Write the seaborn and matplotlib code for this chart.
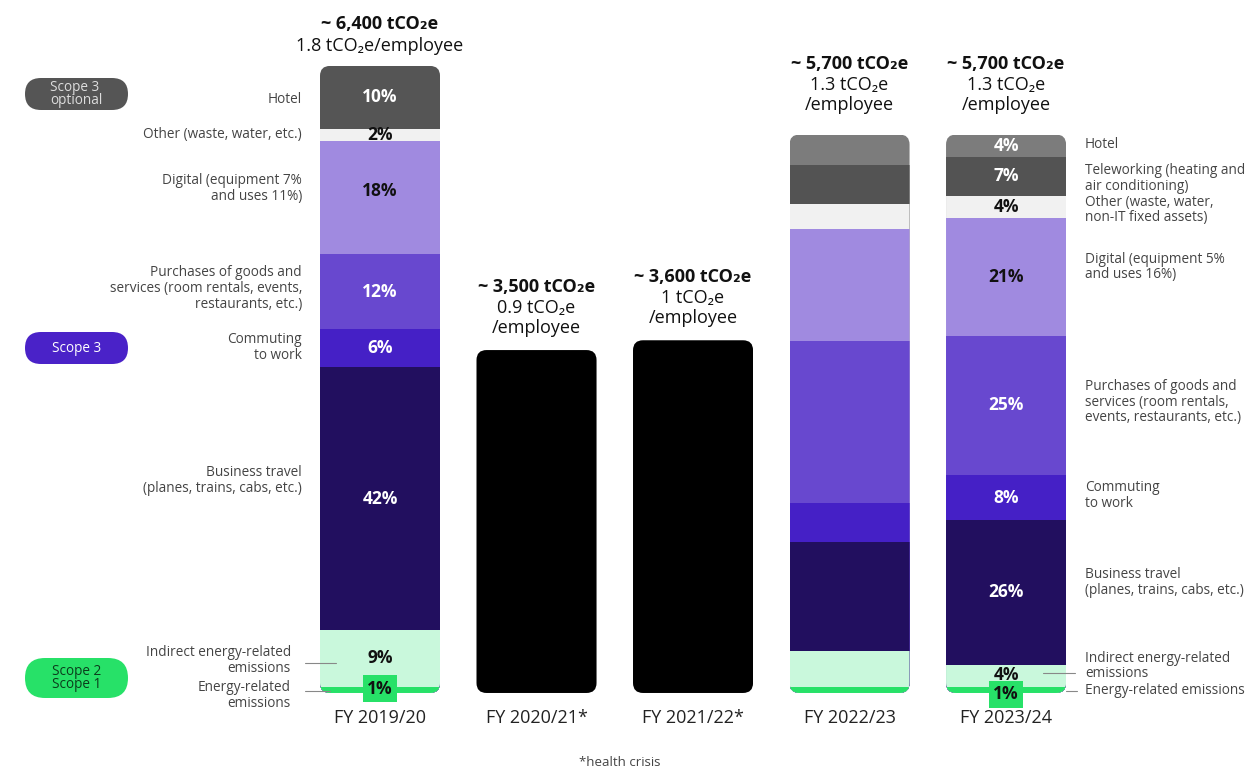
import numpy as np
import pandas as pd
import matplotlib.pyplot as plt
import seaborn as sns
from matplotlib.patches import FancyBboxPatch
from matplotlib.lines import Line2D
from matplotlib.transforms import IdentityTransform

# ---- data (shares in % of each year's total) ----
years = ['FY 2019/20', 'FY 2020/21*', 'FY 2021/22*', 'FY 2022/23', 'FY 2023/24']
totals = [6400, 3500, 3600, 5700, 5700]
per_employee = ['1.8', '0.9', '1', '1.3', '1.3']
has_split = [True, False, False, True, True]

categories = ['Energy', 'Indirect', 'Business travel', 'Commuting', 'Purchases',
              'Digital', 'Other', 'Teleworking', 'Hotel']
energy = [1, np.nan, np.nan, 1, 1]
indirect = [9, np.nan, np.nan, 6.5, 4]
business = [42, np.nan, np.nan, 19.5, 26]
commuting = [6, np.nan, np.nan, 7, 8]
purchases = [12, np.nan, np.nan, 29, 25]
digital = [18, np.nan, np.nan, 20, 21]
other = [2, np.nan, np.nan, 4.5, 4]
teleworking = [0, np.nan, np.nan, 7, 7]
hotel = [10, np.nan, np.nan, 5.5, 4]
shares = [energy, indirect, business, commuting, purchases, digital, other, teleworking, hotel]

colors = {
    'Energy': '#27e168', 'Indirect': '#c9f8dc', 'Business travel': '#220f5f',
    'Commuting': '#4520c6', 'Purchases': '#6848cf', 'Digital': '#a08ae0',
    'Other': '#f1f1f1', 'Teleworking': '#535353', 'Hotel': '#7c7c7c',
}
hotel_2019_color = '#555555'
dark_text = {'Hotel', 'Teleworking', 'Purchases', 'Commuting', 'Business travel'}

FONT = ['Open Sans', 'DejaVu Sans']
sns.set_theme(style='white')
plt.rcParams['font.family'] = FONT

df = pd.DataFrame({'year': years, 'total': totals, 'split': has_split})
for cat, vals in zip(categories, shares):
    df[cat] = np.array(vals) / 100 * df['total']
cum = df[categories].cumsum(axis=1)
for cat in categories:
    df['cum_' + cat] = cum[cat]

fig = plt.figure(figsize=(12.56, 7.69), dpi=100)
ax = fig.add_axes([0, 0, 1, 1])
W = 0.767

split_df = df[df['split']]
# layered stacking: draw the highest cumulative first
for cat in reversed(categories):
    pal = {y: colors[cat] for y in years}
    if cat == 'Hotel':
        pal['FY 2019/20'] = hotel_2019_color
    sns.barplot(data=split_df, x='year', y='cum_' + cat, hue='year', order=years,
                hue_order=years, palette=pal, width=W, saturation=1, legend=False,
                linewidth=0, ax=ax)
sns.barplot(data=df[~df['split']], x='year', y='total', order=years, color='black',
            width=W, saturation=1, linewidth=0, ax=ax)

xmin, xmax = -2.428, 5.597
ymin, ymax = -776, 7073
ax.set_xlim(xmin, xmax)
ax.set_ylim(ymin, ymax)
ax.axis('off')
dx = (xmax - xmin) / 1256
dy = (ymax - ymin) / 769

# rounded bar outlines as clip paths
clips = []
for i, t in enumerate(totals):
    clips.append(FancyBboxPatch((i - W / 2, 0), W, t,
                                boxstyle=f'round,pad=0,rounding_size={10 * dx}',
                                mutation_aspect=dy / dx, transform=ax.transData))
for p in list(ax.patches):
    i = int(round(p.get_x() + p.get_width() / 2))
    p.set_clip_path(clips[i])

# ---- headers above bars ----
for i, (t, pe) in enumerate(zip(totals, per_employee)):
    head = f'~ {t:,} tCO₂e'
    if i == 0:
        lines = [(head, 'bold', 42), (f'{pe} tCO₂e/employee', 'normal', 20)]
    else:
        base = 22 if i in (1, 2) else 30
        lines = [(head, 'bold', base + 41), (f'{pe} tCO₂e', 'normal', base + 20),
                 ('/employee', 'normal', base)]
    for txt, wt, off in lines:
        ax.annotate(txt, xy=(i, t), xytext=(0, off), textcoords='offset pixels',
                    ha='center', va='center', fontsize=13, fontweight=wt,
                    color='#111111', family=FONT)
    ax.annotate(years[i], xy=(i, 0), xytext=(0, -25), textcoords='offset pixels',
                ha='center', va='center', fontsize=13, color='#222222')

# ---- percentage labels ----
pct_shift = {(0, 'Digital'): 7, (0, 'Energy'): 1, (4, 'Energy'): -4, (4, 'Indirect'): 1}
for i in (0, 4):
    for cat, vals in zip(categories, shares):
        v = vals[i]
        if not v:
            continue
        mid = df.loc[i, 'cum_' + cat] - df.loc[i, cat] / 2
        kw = {}
        if cat == 'Energy':
            kw['bbox'] = dict(boxstyle='square,pad=0.25', fc=colors['Energy'], ec='none')
        ax.annotate(f'{v:g}%', xy=(i, mid), xytext=(0, pct_shift.get((i, cat), 0)),
                    textcoords='offset pixels', ha='center', va='center',
                    fontsize=12.5, fontweight='bold',
                    color='white' if cat in dark_text else '#111111', **kw)

# ---- category labels ----
left_labels = [
    ('Hotel', 'Hotel', -2, -18),
    ('Other', 'Other (waste, water, etc.)', 0, -18),
    ('Digital', 'Digital (equipment 7%\nand uses 11%)', 9, -18),
    ('Purchases', 'Purchases of goods and\nservices (room rentals, events,\nrestaurants, etc.)', 3, -18),
    ('Commuting', 'Commuting\nto work', 1, -18),
    ('Business travel', 'Business travel\n(planes, trains, cabs, etc.)', 18, -18),
    ('Indirect', 'Indirect energy-related\nemissions', -2, -29),
    ('Energy', 'Energy-related\nemissions', -6, -29),
]
right_labels = [
    ('Hotel', 'Hotel', 1),
    ('Teleworking', 'Teleworking (heating and\nair conditioning)', -2),
    ('Other', 'Other (waste, water,\nnon-IT fixed assets)', -3),
    ('Digital', 'Digital (equipment 5%\nand uses 16%)', 10),
    ('Purchases', 'Purchases of goods and\nservices (room rentals,\nevents, restaurants, etc.)', 3),
    ('Commuting', 'Commuting\nto work', 2),
    ('Business travel', 'Business travel\n(planes, trains, cabs, etc.)', 10),
    ('Indirect', 'Indirect energy-related\nemissions', 10),
    ('Energy', 'Energy-related emissions', 0),
]
for cat, txt, off, xoff in left_labels:
    mid = df.loc[0, 'cum_' + cat] - df.loc[0, cat] / 2
    ax.annotate(txt, xy=(-W / 2, mid), xytext=(xoff, off), textcoords='offset pixels',
                ha='right', va='center', fontsize=9.8, color='#444444', linespacing=1.1)
for cat, txt, off in right_labels:
    mid = df.loc[4, 'cum_' + cat] - df.loc[4, cat] / 2
    ax.annotate(txt, xy=(4 + W / 2, mid), xytext=(19, off), textcoords='offset pixels',
                ha='left', va='center', fontsize=9.8, color='#444444', linespacing=1.05)

H = 769
ident = IdentityTransform()
for (x0, x1, y) in [(305, 336, 663), (305, 330, 691), (1043, 1075, 673), (1066, 1077, 691)]:
    fig.add_artist(Line2D([x0, x1], [H - y, H - y], color='#888888', lw=0.8,
                          transform=ident))

# ---- scope pills ----
pills = [
    (78, 110, '#555555', 'Scope 3\noptional', '#dddddd'),
    (332, 364, '#4a22c8', 'Scope 3', 'white'),
    (658, 698, '#27e168', 'Scope 2\nScope 1', '#0b3d1c'),
]
for y0, y1, fc, txt, tc in pills:
    h = y1 - y0
    fig.add_artist(FancyBboxPatch((25, H - y1), 103, h,
                                  boxstyle=f'round,pad=0,rounding_size={h / 2}',
                                  fc=fc, ec='none', transform=ident))
    fig.text(76.5 / 1256, 1 - (y0 + y1) / 2 / H, txt, ha='center', va='center',
             fontsize=9.8, color=tc, linespacing=0.9, multialignment='left')

fig.text(620 / 1256, 1 - 762 / H, '*health crisis', ha='center', va='center',
         fontsize=9.5, color='#444444')

fig.savefig('out.png', dpi=100)
